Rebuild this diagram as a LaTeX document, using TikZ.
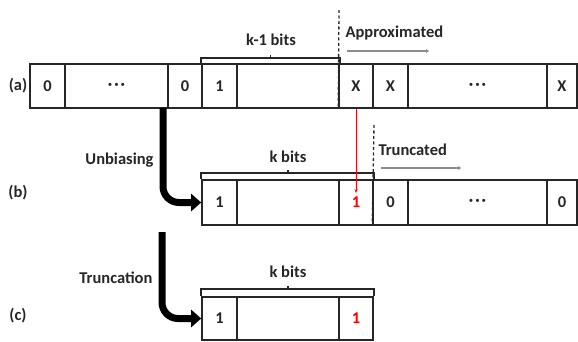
\documentclass[tikz,border=0pt]{standalone}
\usepackage{fontspec}
\setmainfont{Carlito}
\usetikzlibrary{arrows.meta}
\newcommand{\mydots}{·\kern2pt·\kern2pt·}
\begin{document}
\begin{tikzpicture}[x=1pt,y=-1pt,
  every node/.style={font=\fontsize{16.5}{18}\selectfont\bfseries, text=black!85},
  cell/.style={draw=black!85, line width=1.6pt, inner sep=0pt},
  brk/.style={draw=black!85, line width=1.5pt},
  bigarrow/.style={line width=7pt, rounded corners=16pt, -{Triangle[length=10pt,width=17pt]}},
  note/.style={draw=black!45, line width=1.6pt, -{Stealth[length=3pt,width=4pt]}},
  divider/.style={draw=black!85, line width=1.3pt, dash pattern=on 3pt off 2.5pt}
]
\useasboundingbox (0,0) rectangle (578,342);
% row (a)
\foreach \n/\l/\r/\t in {a1/30/65/0, a2/65/168/\mydots, a3/168/202/0, a4/202/237/1, a5/237/339/, a6/339/373/X, a7/373/408/X, a8/408/547/\mydots, a9/547/577/X}
  \node[cell, minimum width=\r-\l, minimum height=44] (\n) at ({(\l+\r)/2},86) {\t};
% row (b)
\foreach \n/\l/\r/\t in {b4/202/237/1, b5/237/339/, b7/373/408/0, b8/408/547/\mydots, b9/547/577/0}
  \node[cell, minimum width=\r-\l, minimum height=45] (\n) at ({(\l+\r)/2},202.5) {\t};
\node[cell, minimum width=34, minimum height=45, text=red] (b6) at (356,202.5) {1};
% row (c)
\node[cell, minimum width=35, minimum height=43] (c4) at (219.5,318.5) {1};
\node[cell, minimum width=102, minimum height=43] (c5) at (288,318.5) {};
\node[cell, minimum width=34, minimum height=43, text=red] (c6) at (356,318.5) {1};
% brackets
\draw[brk] (a4.north west) -- ++(0,-5) -| (a5.north east);
\draw[brk] (270.5,59) -- (270.5,55);
\draw[brk] (b4.north west) -- ++(0,-6) -| (b6.north east);
\draw[brk] (288,174) -- (288,170);
\draw[brk] (c4.north west) -- ++(0,-7) -| (c6.north east);
\draw[brk] (288,290) -- (288,286);
% bracket labels
\node (kab) at (271,40) {k-1 bits};
\node (kbb) at (288,157) {k bits};
\node (kcb) at (288,272) {k bits};
% dividers
\coordinate (d1) at (339,10);
\draw[divider] (d1) -- (a6.south west);
\coordinate (d2) at (374,125);
\draw[divider] (d2) -- (b7.south west);
% approximated / truncated
\node[anchor=west] (appr) at (342,33) {Approximated};
\coordinate (ap1) at (347,51); \coordinate (ap2) at (429,51);
\draw[note] (ap1) -- (ap2);
\node[anchor=west] (trunc) at (375,150) {Truncated};
\coordinate (tr1) at (381,168); \coordinate (tr2) at (461,168);
\draw[note] (tr1) -- (tr2);
% red arrow
\draw[red, line width=0.9pt, -{Stealth[length=4pt,width=3pt]}] (a6.south) -- (356,193);
% row labels
\node (la) at (18,86) {(a)};
\node (lb) at (18,193) {(b)};
\node (lc) at (18,316) {(c)};
% big arrows
\node[anchor=east] (unb) at (157,160) {Unbiasing};
\coordinate (u0) at (163,108);
\draw[bigarrow] (u0) |- (b4.west);
\node[anchor=east] (trn) at (156,278) {Truncation};
\coordinate (t0) at (162,232);
\draw[bigarrow] (t0) |- (c4.west);
\end{tikzpicture}
\end{document}
